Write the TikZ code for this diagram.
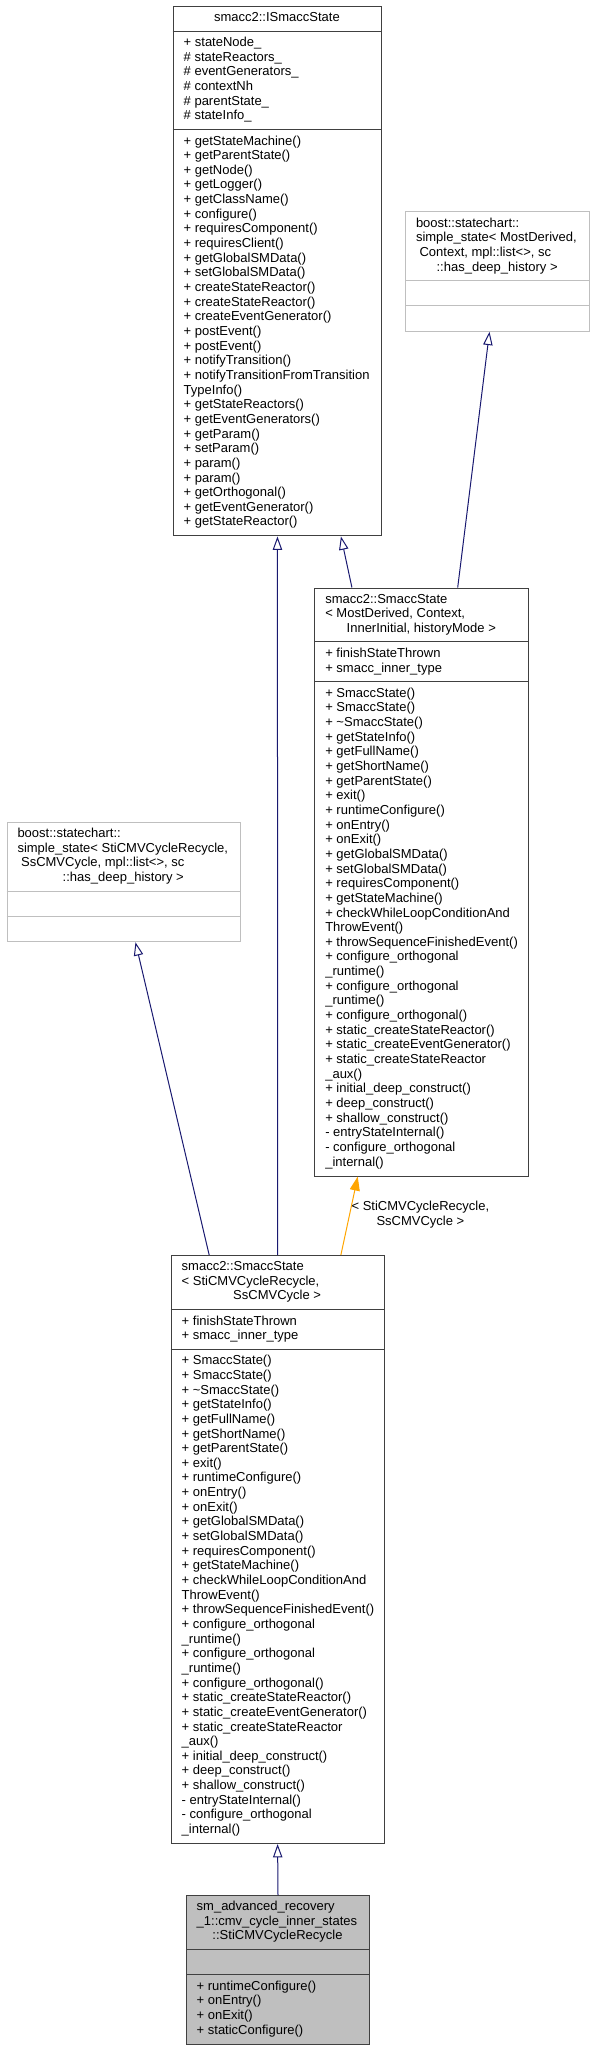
\documentclass[tikz,border=0pt]{standalone}
\usepackage{fontspec}
\setmainfont{Liberation Sans}
\usetikzlibrary{arrows.meta,calc}
\definecolor{edgeblue}{HTML}{191970}
\definecolor{edgeorange}{HTML}{FFA500}
\definecolor{extgray}{HTML}{BFBFBF}
\definecolor{boxline}{HTML}{404040}
\definecolor{mainfill}{HTML}{BFBFBF}
\tikzset{
  txt/.style={inner sep=0pt, outer sep=0pt, font=\fontsize{9.75}{11.7}\selectfont},
  cls/.style={draw=boxline, line width=0.75pt, fill=white, anchor=north west, inner sep=0pt},
  extcls/.style={draw=extgray, line width=0.75pt, fill=white, anchor=north west, inner sep=0pt},
  maincls/.style={draw=boxline, line width=0.75pt, fill=mainfill, anchor=north west, inner sep=0pt},
  sepl/.style={draw=boxline, line width=0.75pt},
  extsep/.style={draw=extgray, line width=0.75pt},
  inh/.style={draw=edgeblue, line width=0.75pt, -{Triangle[length=10pt,width=7pt,fill=white,line width=0.75pt]}},
  tmpl/.style={draw=edgeorange, line width=0.75pt, -{Triangle[length=10.5pt,width=7.5pt,fill=edgeorange]}},
}
\newcommand\boxlines[4]{%
  \foreach \tx [count=\i from 0] in {#4} {
    \node[txt, anchor=base west, name=#1\i] at (#2, {#3+\i*14.65+3.8}) {\tx};
  }}
\begin{document}
\begin{tikzpicture}[x=0.75pt, y=-0.75pt]
\useasboundingbox (0,0) rectangle (595,2051);

% ---------- smacc2::ISmaccState ----------
\node[cls, minimum width={208.5*0.75pt}, minimum height={529.45*0.75pt}] (isms) at (172.7,6) {};
\draw[sepl] (172.7,31.1) -- (381.2,31.1);
\draw[sepl] (172.7,129.45) -- (381.2,129.45);
\node[txt, anchor=base] (ismsT) at (276.95,{17.8+3.8}) {smacc2::ISmaccState};
\boxlines{ismsA}{183.7}{42.9}{+ stateNode\_, \# stateReactors\_, \# eventGenerators\_, \# contextNh, \# parentState\_, \# stateInfo\_}
\boxlines{ismsM}{183.7}{141.25}{+ getStateMachine(), + getParentState(), + getNode(), + getLogger(), + getClassName(), + configure(), + requiresComponent(), + requiresClient(), + getGlobalSMData(), + setGlobalSMData(), + createStateReactor(), + createStateReactor(), + createEventGenerator(), + postEvent(), + postEvent(), + notifyTransition(), + notifyTransitionFromTransition, TypeInfo(), + getStateReactors(), + getEventGenerators(), + getParam(), + setParam(), + param(), + param(), + getOrthogonal(), + getEventGenerator(), + getStateReactor()}

% ---------- boost simple_state (right) ----------
\node[extcls, minimum width={184.3*0.75pt}, minimum height={119.25*0.75pt}] (bR) at (405,211.5) {};
\draw[extsep] (405,280.55) -- (589.3,280.55);
\draw[extsep] (405,305.65) -- (589.3,305.65);
\node[txt, anchor=base west] (bRt0) at (416,{223.3+3.8}) {boost::statechart::};
\node[txt, anchor=base west] (bRt1) at (416,{237.95+3.8}) {simple\_state< MostDerived,};
\node[txt, anchor=base west] (bRt2) at (419.6,{252.6+3.8}) {Context, mpl::list<>, sc};
\node[txt, anchor=base] (bRt3) at (497.15,{267.25+3.8}) {::has\_deep\_history >};

% ---------- smacc2::SmaccState generic ----------
\node[cls, minimum width={214*0.75pt}, minimum height={588.05*0.75pt}] (gen) at (314.3,587.5) {};
\draw[sepl] (314.3,641.9) -- (528.3,641.9);
\draw[sepl] (314.3,681.65) -- (528.3,681.65);
\node[txt, anchor=base west] (genT0) at (325.3,{599.3+3.8}) {smacc2::SmaccState};
\node[txt, anchor=base west] (genT1) at (325.3,{613.95+3.8}) {< MostDerived, Context,};
\node[txt, anchor=base] (genT2) at (421.3,{628.6+3.8}) {InnerInitial, historyMode >};
\boxlines{genA}{325.3}{653.7}{+ finishStateThrown, + smacc\_inner\_type}
\boxlines{genM}{325.3}{693.45}{+ SmaccState(), + SmaccState(), + \textasciitilde{}SmaccState(), + getStateInfo(), + getFullName(), + getShortName(), + getParentState(), + exit(), + runtimeConfigure(), + onEntry(), + onExit(), + getGlobalSMData(), + setGlobalSMData(), + requiresComponent(), + getStateMachine(), + checkWhileLoopConditionAnd, ThrowEvent(), + throwSequenceFinishedEvent(), + configure\_orthogonal, \_runtime(), + configure\_orthogonal, \_runtime(), + configure\_orthogonal(), + static\_createStateReactor(), + static\_createEventGenerator(), + static\_createStateReactor, \_aux(), + initial\_deep\_construct(), + deep\_construct(), + shallow\_construct(), - entryStateInternal(), - configure\_orthogonal, \_internal()}

% ---------- boost simple_state (left) ----------
\node[extcls, minimum width={233.5*0.75pt}, minimum height={119.25*0.75pt}] (bL) at (6.5,822) {};
\draw[extsep] (6.5,891.05) -- (240,891.05);
\draw[extsep] (6.5,916.15) -- (240,916.15);
\node[txt, anchor=base west] (bLt0) at (17.5,{833.8+3.8}) {boost::statechart::};
\node[txt, anchor=base west] (bLt1) at (17.5,{848.45+3.8}) {simple\_state< StiCMVCycleRecycle,};
\node[txt, anchor=base west] (bLt2) at (21.1,{863.1+3.8}) {SsCMVCycle, mpl::list<>, sc};
\node[txt, anchor=base] (bLt3) at (123.25,{877.75+3.8}) {::has\_deep\_history >};

% ---------- smacc2::SmaccState< StiCMVCycleRecycle, SsCMVCycle > ----------
\node[cls, minimum width={212.8*0.75pt}, minimum height={588.05*0.75pt}] (low) at (170.7,1255) {};
\draw[sepl] (170.7,1309.4) -- (383.5,1309.4);
\draw[sepl] (170.7,1349.15) -- (383.5,1349.15);
\node[txt, anchor=base west] (lowT0) at (181.7,{1266.8+3.8}) {smacc2::SmaccState};
\node[txt, anchor=base west] (lowT1) at (181.7,{1281.45+3.8}) {< StiCMVCycleRecycle,};
\node[txt, anchor=base] (lowT2) at (277.1,{1296.1+3.8}) {SsCMVCycle >};
\boxlines{lowA}{181.7}{1321.2}{+ finishStateThrown, + smacc\_inner\_type}
\boxlines{lowM}{181.7}{1360.95}{+ SmaccState(), + SmaccState(), + \textasciitilde{}SmaccState(), + getStateInfo(), + getFullName(), + getShortName(), + getParentState(), + exit(), + runtimeConfigure(), + onEntry(), + onExit(), + getGlobalSMData(), + setGlobalSMData(), + requiresComponent(), + getStateMachine(), + checkWhileLoopConditionAnd, ThrowEvent(), + throwSequenceFinishedEvent(), + configure\_orthogonal, \_runtime(), + configure\_orthogonal, \_runtime(), + configure\_orthogonal(), + static\_createStateReactor(), + static\_createEventGenerator(), + static\_createStateReactor, \_aux(), + initial\_deep\_construct(), + deep\_construct(), + shallow\_construct(), - entryStateInternal(), - configure\_orthogonal, \_internal()}

% ---------- StiCMVCycleRecycle ----------
\node[maincls, minimum width={183*0.75pt}, minimum height={148.55*0.75pt}] (sti) at (186,1895) {};
\draw[sepl] (186,1949.4) -- (369,1949.4);
\draw[sepl] (186,1974.5) -- (369,1974.5);
\node[txt, anchor=base west] (stiT0) at (196.7,{1906.8+3.8}) {sm\_advanced\_recovery};
\node[txt, anchor=base west] (stiT1) at (196.7,{1921.45+3.8}) {\_1::cmv\_cycle\_inner\_states};
\node[txt, anchor=base] (stiT2) at (277.5,{1936.1+3.8}) {::StiCMVCycleRecycle};
\boxlines{stiM}{196.7}{1986.3}{+ runtimeConfigure(), + onEntry(), + onExit(), + staticConfigure()}

% ---------- connectors ----------
\draw[inh] (low.north) -- (isms.south);
\draw[inh] ($(gen.north west)!0.175!(gen.north east)$) -- ($(isms.south west)!0.803!(isms.south east)$);
\draw[inh] ($(gen.north west)!0.667!(gen.north east)$) -- ($(bR.south west)!0.456!(bR.south east)$);
\draw[inh] ($(low.north west)!0.18!(low.north east)$) -- ($(bL.south west)!0.55!(bL.south east)$);
\draw[tmpl] ($(low.north west)!0.796!(low.north east)$) -- ($(gen.south west)!0.202!(gen.south east)$);
\node[txt, align=center] (tlbl) at (420.4,1214.5) {< StiCMVCycleRecycle,\\SsCMVCycle >};
\draw[inh] (sti.north) -- (low.south);
\end{tikzpicture}
\end{document}
